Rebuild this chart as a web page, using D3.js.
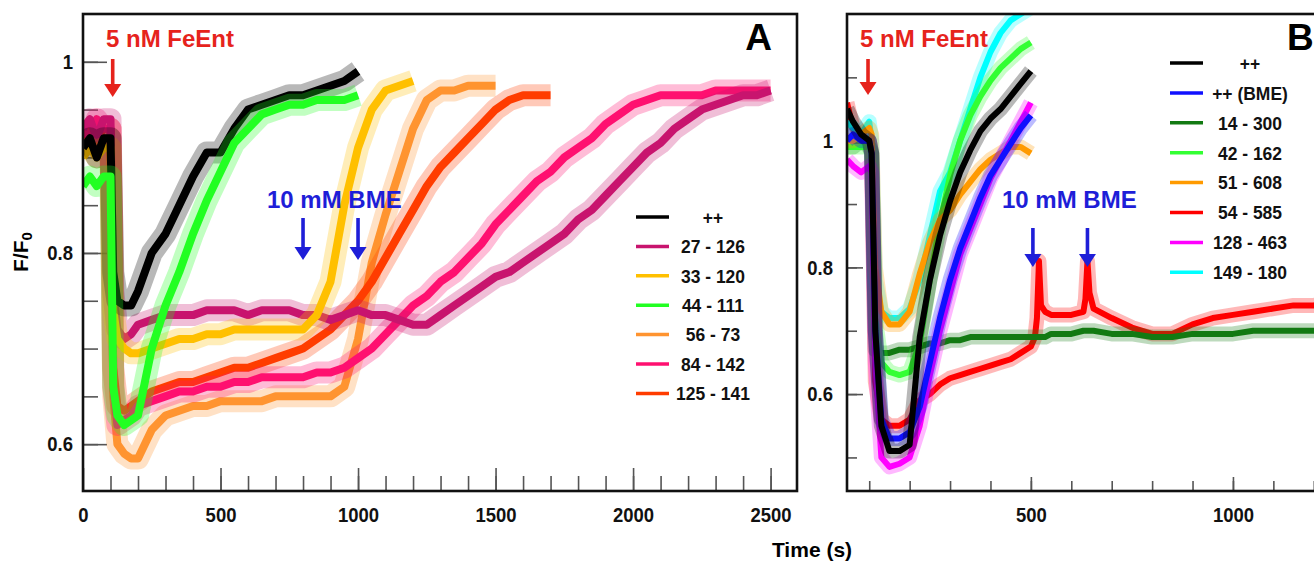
<!DOCTYPE html>
<html lang="en">
<head>
<meta charset="UTF-8">
<title>FeEnt fluorescence quenching</title>
<script src="https://d3js.org/d3.v7.min.js"></script>
<style>
  body { margin: 0; background: #fff; }
  svg { display: block; }
  text { font-family: "Liberation Sans", Arial, sans-serif; font-weight: bold; }
  .axis text, .legend text { font-family: "Liberation Sans", Arial, sans-serif; font-size: 21px; fill: #111; }
  .legend text { font-size: 19px; }
  .axis line { stroke: #555; stroke-width: 1.6; }
  .axis .domain { display: none; }
</style>
</head>
<body>
<div id="chart"></div>
<script>
// ---- data, panel A (time in s, F/F0) ----
const timeA = [0, 25, 50, 75, 100, 110, 125, 150, 175, 200, 250, 300, 350, 400, 450, 500, 550, 600, 650, 700,
  750, 800, 850, 900, 950, 1000, 1050, 1100, 1150, 1200, 1250, 1300, 1350, 1400, 1450, 1500, 1550, 1600, 1650, 1700,
  1750, 1800, 1850, 1900, 1950, 2000, 2050, 2100, 2150, 2200, 2250, 2300, 2350, 2400, 2450, 2500];

const a_pp = [.91, .92, .90, .92, .92, .78, .75, .745, .745, .76, .80, .82, .85, .88, .905, .905, .93, .95, .955, .96,
  .965, .965, .97, .975, .98, .99];
const a_27_126 = [.93, .94, .92, .94, .94, .76, .72, .71, .715, .725, .73, .735, .735, .735, .74, .74, .74, .735, .74, .74,
  .74, .735, .735, .73, .735, .74, .735, .735, .73, .725, .725, .735, .745, .755, .765, .775, .78, .79, .80, .81,
  .82, .835, .845, .86, .875, .89, .905, .915, .93, .94, .95, .955, .96, .965, .965, .97];
const a_33_120 = [.90, .91, .90, .91, .91, .74, .71, .70, .695, .695, .70, .705, .71, .71, .715, .715, .72, .72, .72, .72,
  .72, .72, .735, .77, .85, .91, .95, .97, .975, .98];
const a_44_111 = [.87, .88, .87, .88, .88, .66, .63, .62, .625, .63, .70, .745, .78, .82, .855, .885, .915, .93, .945, .95,
  .955, .955, .96, .96, .96, .965];
const a_56_73 = [.91, .92, .91, .92, .92, .65, .60, .59, .585, .585, .615, .63, .635, .64, .64, .645, .645, .645, .645, .65,
  .65, .65, .65, .65, .66, .71, .79, .84, .885, .93, .96, .97, .97, .975, .975, .975];
const a_84_142 = [.93, .92, .94, .93, .93, .66, .62, .625, .63, .64, .645, .65, .655, .655, .66, .66, .665, .665, .67, .67,
  .67, .67, .675, .675, .68, .69, .70, .715, .73, .745, .755, .77, .78, .795, .81, .83, .845, .86, .875, .885,
  .90, .91, .92, .935, .945, .955, .96, .965, .965, .965, .965, .97, .97, .97, .97, .97];
const a_125_141 = [.92, .93, .92, .93, .93, .68, .64, .635, .64, .645, .655, .66, .665, .665, .67, .675, .68, .68, .685, .69,
  .695, .70, .71, .72, .735, .75, .77, .795, .82, .845, .87, .89, .905, .92, .935, .95, .96, .965, .965, .965];

const labelsA = ["++", "27 - 126", "33 - 120", "44 - 111", "56 - 73", "84 - 142", "125 - 141"];
const valuesA = [a_pp, a_27_126, a_33_120, a_44_111, a_56_73, a_84_142, a_125_141];
const colorsA = ["#000000", "#c8146e", "#ffc000", "#22ff22", "#ff9430", "#ff1070", "#ff3c00"];
const drawOrderA = ["56 - 73", "125 - 141", "84 - 142", "27 - 126", "33 - 120", "++", "44 - 111"];

// ---- data, panel B ----
const timeB = [45, 60, 80, 100, 106, 115, 130, 150, 175, 200, 225, 250, 275, 300, 325, 350, 375, 400, 425, 450,
  475, 500, 510, 515, 520, 525, 535, 550, 600, 630, 635, 640, 645, 655, 700, 750, 800, 850, 900, 950,
  1000, 1050, 1100, 1150, 1200, 1250];

const b_pp = [1.05, 1.03, 1.01, 1.0, .98, .70, .55, .51, .51, .52, .69, .78, .85, .905, .95, .985, 1.015, 1.035, 1.05, 1.07,
  1.09, 1.11];
const b_pp_bme = [1.0, 1.01, 1.0, 1.0, .98, .70, .56, .53, .53, .54, .58, .65, .72, .78, .83, .87, .91, .945, .97, .995,
  1.02, 1.04];
const b_14_300 = [.99, .99, 1.0, .99, .98, .67, .665, .665, .67, .67, .675, .68, .68, .685, .685, .69, .69, .69, .69, .69,
  .69, .69, .69, .69, .69, .69, .69, .695, .695, .70, .70, .70, .70, .70, .695, .695, .69, .69, .695, .695,
  .695, .70, .70, .70, .70, .70];
const b_42_162 = [.99, .99, .99, .99, .98, .72, .65, .635, .63, .635, .68, .78, .87, .945, 1.0, 1.04, 1.07, 1.095, 1.115, 1.13,
  1.145, 1.155];
const b_51_608 = [1.0, 1.0, 1.01, 1.02, 1.01, .80, .73, .71, .71, .73, .79, .84, .875, .89, .915, .935, .955, .97, .98, .99,
  .99, .98];
const b_54_585 = [1.06, 1.02, 1.0, 1.0, .98, .62, .56, .55, .55, .56, .59, .60, .615, .625, .63, .635, .64, .645, .65, .655,
  .665, .675, .69, .72, .81, .74, .73, .725, .725, .73, .75, .81, .76, .735, .72, .705, .695, .695, .71, .72,
  .725, .73, .735, .74, .74, .745];
const b_128_463 = [.97, .96, .95, .96, .95, .65, .50, .485, .49, .50, .55, .63, .70, .76, .82, .86, .90, .94, .97, 1.0,
  1.03, 1.06];
const b_149_180 = [1.03, 1.02, 1.01, 1.03, 1.0, .78, .73, .72, .72, .735, .78, .85, .92, .95, 1.0, 1.05, 1.10, 1.14, 1.17, 1.19,
  1.20, 1.21];

const labelsB = ["++", "++ (BME)", "14 - 300", "42 - 162", "51 - 608", "54 - 585", "128 - 463", "149 - 180"];
const valuesB = [b_pp, b_pp_bme, b_14_300, b_42_162, b_51_608, b_54_585, b_128_463, b_149_180];
const colorsB = ["#000000", "#1010ff", "#127a12", "#33ff33", "#ff9a00", "#ff0000", "#ff00ff", "#00ffff"];
const drawOrderB = ["54 - 585", "14 - 300", "149 - 180", "42 - 162", "51 - 608", "128 - 463", "++ (BME)", "++"];

// tick labels
const xTicksA = [0, 500, 1000, 1500, 2000, 2500];
const yTicksA = [0.6, 0.8, 1];
const xTicksB = [500, 1000];
const yTicksB = [0.6, 0.8, 1];

// annotation times
const feEntA = 108, feEntB = 97;
const bmeA = [800, 1000], bmeB = [505, 640];

// ---- drawing ----
const width = 1314, height = 562;
const red = "#e6231c", blue = "#1e1ed8";
const squeeze = 0.88; // tick and legend lettering is narrower than the sans bold

const svg = d3.select("#chart").append("svg")
  .attr("width", width)
  .attr("height", height);

const xA = d3.scaleLinear().domain([0, 2596]).range([83, 797]);
const yA = d3.scaleLinear().domain([0.551, 1.05]).range([491, 14]);
const xB = d3.scaleLinear().domain([45, 1255]).range([847, 1336]);
const yB = d3.scaleLinear().domain([0.447, 1.2]).range([491, 14]);

function table(times, labels, values) {
  return labels.map((label, i) => ({
    label,
    points: times.map((t, j) => ({ t, v: values[i][j] }))
  }));
}

function panel(id, x, y, cfg) {
  const g = svg.append("g").attr("class", "panel-" + id);
  const [x0, x1] = x.range();
  const [y1, y0] = y.range();

  svg.append("clipPath").attr("id", "clip-" + id)
    .append("rect")
    .attr("x", x0).attr("y", y0)
    .attr("width", x1 - x0).attr("height", y1 - y0);

  // ticks (minor, then major with labels)
  g.append("g").attr("class", "axis")
    .attr("transform", `translate(0,${y1})`)
    .call(d3.axisBottom(x).tickValues(cfg.xMinor).tickSize(-cfg.minorLen).tickFormat(""));
  g.append("g").attr("class", "axis")
    .attr("transform", `translate(0,${y1})`)
    .call(d3.axisBottom(x).tickValues(cfg.xMajor).tickSize(-cfg.majorLen).tickPadding(16)
      .tickFormat(d3.format("d")))
    .selectAll("text").attr("transform", `scale(${squeeze},1)`);
  g.append("g").attr("class", "axis")
    .attr("transform", `translate(${x0},0)`)
    .call(d3.axisLeft(y).tickValues(cfg.yMinor).tickSize(-cfg.yMinorLen).tickFormat(""));
  g.append("g").attr("class", "axis")
    .attr("transform", `translate(${x0},0)`)
    .call(d3.axisLeft(y).tickValues(cfg.yMajor).tickSize(-cfg.yMajorLen).tickPadding(cfg.yPad / squeeze)
      .tickFormat(d => d === 1 ? "1" : d3.format(".1f")(d)))
    .selectAll("text").attr("transform", `scale(${squeeze},1)`);

  // traces: a soft band for the noise, then the core line
  const line = d3.line()
    .defined(d => d.v != null)
    .x(d => x(d.t))
    .y(d => y(d.v));

  const plot = g.append("g").attr("clip-path", `url(#clip-${id})`);
  const color = d3.scaleOrdinal().domain(cfg.labels).range(cfg.colors);
  const order = cfg.order.map(l => cfg.series.find(s => s.label === l));

  const trace = plot.selectAll("g.trace")
    .data(order)
    .join("g")
    .attr("class", "trace");
  trace.append("path")
    .attr("d", d => line(d.points))
    .attr("fill", "none")
    .attr("stroke", d => color(d.label))
    .attr("stroke-opacity", 0.28)
    .attr("stroke-width", cfg.band)
    .attr("stroke-linejoin", "round");
  trace.append("path")
    .attr("d", d => line(d.points))
    .attr("fill", "none")
    .attr("stroke", d => color(d.label))
    .attr("stroke-width", cfg.core)
    .attr("stroke-linejoin", "round");

  // frame
  g.append("rect")
    .attr("x", x0).attr("y", y0)
    .attr("width", x1 - x0).attr("height", y1 - y0)
    .attr("fill", "none")
    .attr("stroke", "#111")
    .attr("stroke-width", 2.6);

  // legend
  const leg = g.append("g").attr("class", "legend");
  const row = leg.selectAll("g")
    .data(cfg.labels)
    .join("g")
    .attr("transform", (d, i) => `translate(0,${cfg.legY + i * cfg.legStep})`);
  row.append("line")
    .attr("x1", cfg.legX).attr("x2", cfg.legX + 33)
    .attr("stroke", d => color(d))
    .attr("stroke-width", 3.5);
  row.append("text")
    .attr("transform", `translate(${cfg.legText},0) scale(${squeeze + 0.04},1)`)
    .attr("dy", "0.36em")
    .attr("text-anchor", "middle")
    .text(d => d);

  return g;
}

function arrow(g, xp, yTop, yTip, col) {
  g.append("line")
    .attr("x1", xp).attr("x2", xp)
    .attr("y1", yTop).attr("y2", yTip - 10)
    .attr("stroke", col).attr("stroke-width", 3.6);
  g.append("path")
    .attr("d", `M${xp - 8.5},${yTip - 13}L${xp + 8.5},${yTip - 13}L${xp},${yTip}Z`)
    .attr("fill", col);
}

const gA = panel("A", xA, yA, {
  series: table(timeA, labelsA, valuesA),
  labels: labelsA, colors: colorsA, order: drawOrderA,
  xMinor: d3.range(100, 2501, 100), xMajor: xTicksA,
  yMinor: d3.range(0.6, 1.001, 0.05), yMajor: yTicksA,
  minorLen: 15, majorLen: 23, yMinorLen: 15, yMajorLen: 24, yPad: 10,
  band: 22, core: 8,
  legX: 636, legText: 713, legY: 217, legStep: 29.4
});

const gB = panel("B", xB, yB, {
  series: table(timeB, labelsB, valuesB),
  labels: labelsB, colors: colorsB, order: drawOrderB,
  xMinor: d3.range(100, 1201, 100), xMajor: xTicksB,
  yMinor: d3.range(0.5, 1.101, 0.1), yMajor: yTicksB,
  minorLen: 10, majorLen: 14, yMinorLen: 10, yMajorLen: 16, yPad: 14,
  band: 15, core: 6,
  legX: 1170, legText: 1250, legY: 63, legStep: 29.9
});

// annotations
arrow(gA, xA(feEntA), 59, 97, red);
gA.append("text").attr("x", 106).attr("y", 47)
  .attr("fill", red).attr("font-size", 24).text("5 nM FeEnt");
bmeA.forEach(t => arrow(gA, xA(t), 218, 260, blue));
gA.append("text").attr("x", 267).attr("y", 208)
  .attr("fill", blue).attr("font-size", 24).text("10 mM BME");
gA.append("text").attr("x", 772).attr("y", 50)
  .attr("text-anchor", "end").attr("font-size", 37).text("A");

arrow(gB, xB(feEntB), 59, 95, red);
gB.append("text").attr("x", 860).attr("y", 47)
  .attr("fill", red).attr("font-size", 24).text("5 nM FeEnt");
bmeB.forEach(t => arrow(gB, xB(t), 228, 267, blue));
gB.append("text").attr("x", 1002).attr("y", 208)
  .attr("fill", blue).attr("font-size", 24).text("10 mM BME");
gB.append("text").attr("x", 1287).attr("y", 50)
  .attr("font-size", 37).text("B");

// axis titles
svg.append("text")
  .attr("transform", "translate(28,252) rotate(-90)")
  .attr("text-anchor", "middle")
  .attr("font-size", 21)
  .html('F/F<tspan font-size="15" dy="4">0</tspan>');
svg.append("text")
  .attr("x", 812).attr("y", 557)
  .attr("text-anchor", "middle")
  .attr("font-size", 21)
  .text("Time (s)");
</script>
</body>
</html>
